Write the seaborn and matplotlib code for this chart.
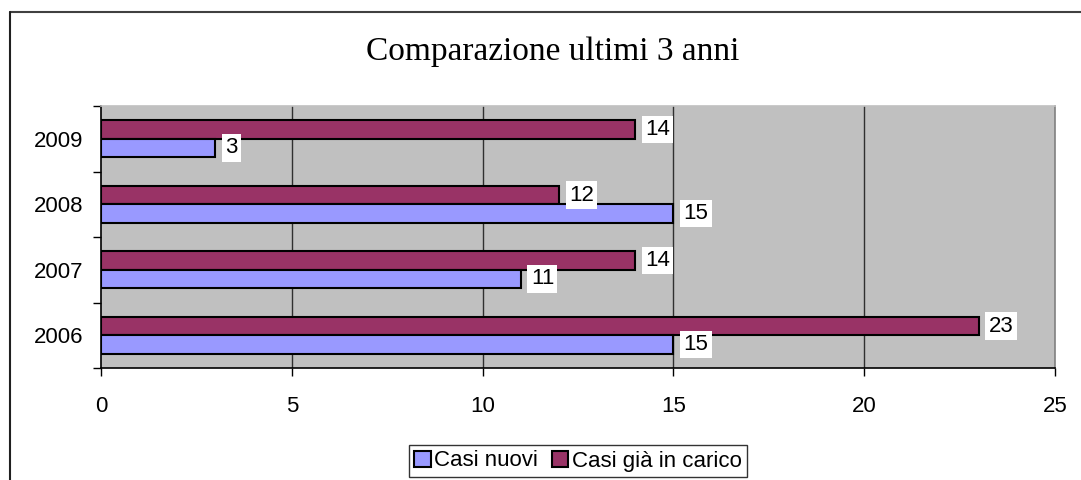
import matplotlib
matplotlib.use("Agg")
import matplotlib.pyplot as plt
from matplotlib.lines import Line2D
from matplotlib.patches import Patch
import pandas as pd
import seaborn as sns

# Data
anni = ["2009", "2008", "2007", "2006"]
casi_nuovi = [3, 15, 11, 15]
casi_in_carico = [14, 12, 14, 23]
serie = ["Casi nuovi", "Casi già in carico"]
colori = {"Casi nuovi": "#9999FF", "Casi già in carico": "#993366"}
x_ticks = [0, 5, 10, 15, 20, 25]

df = pd.DataFrame({
    "anno": anni * 2,
    "valore": casi_nuovi + casi_in_carico,
    "serie": [serie[0]] * len(anni) + [serie[1]] * len(anni),
})

sns.set_style("white")
plt.rcParams["font.family"] = ["Liberation Sans", "DejaVu Sans"]
plt.rcParams["text.color"] = "black"
plt.rcParams["xtick.color"] = "black"
plt.rcParams["ytick.color"] = "black"
plt.rcParams["xtick.labelcolor"] = "black"
plt.rcParams["ytick.labelcolor"] = "black"
FS = 16

fig = plt.figure(figsize=(10.81, 4.80), dpi=100)
ax = fig.add_axes([101 / 1081, 1 - 368 / 480, (1055 - 101) / 1081, (368 - 106) / 480])
ax.set_facecolor("#C0C0C0")

# purple series first so it sits above the blue one in each band
sns.barplot(
    data=df, y="anno", x="valore", hue="serie", order=anni,
    hue_order=[serie[1], serie[0]], palette=colori, orient="h",
    width=0.56, edgecolor="black", linewidth=1.5, ax=ax, legend=False,
    saturation=1,
)

# value labels in white boxes
for cont in ax.containers:
    for bar in cont:
        v = bar.get_width()
        ax.annotate(
            f"{v:g}", xy=(v, bar.get_y() + bar.get_height() / 2),
            xytext=(10, 0), textcoords="offset pixels", ha="left", va="center",
            fontsize=FS, color="black",
            bbox=dict(boxstyle="square,pad=0.15", fc="white", ec="none"),
        )

ax.set_xlim(0, 25)
ax.set_ylim(3.5, -0.5)
ax.set_xticks(x_ticks)
ax.set_xticklabels([str(t) for t in x_ticks], fontsize=FS, color="black")
ax.set_yticks(range(len(anni)))
ax.set_yticklabels(anni, fontsize=FS, color="black")
ax.set_yticks([-0.5, 0.5, 1.5, 2.5, 3.5], minor=True)
ax.tick_params(axis="y", which="major", length=0, pad=13)
ax.tick_params(axis="y", which="minor", length=6, width=1, color="black", direction="out", left=True)
ax.tick_params(axis="x", which="major", length=6, width=1, color="black", direction="out", bottom=True, pad=14)
ax.set_xlabel("")
ax.set_ylabel("")

for x in x_ticks[1:-1]:
    ax.axvline(x, color="#303030", linewidth=1, zorder=0.5)

ax.spines["left"].set_color("black")
ax.spines["bottom"].set_color("black")
ax.spines["right"].set_color("#808080")
ax.spines["top"].set_color("#C0C0C0")
for s in ax.spines.values():
    s.set_linewidth(1.2)
    s.set_visible(True)

fig.text(553 / 1081, 1 - 52 / 480, "Comparazione ultimi 3 anni",
         ha="center", va="center", fontsize=24, color="black",
         family=["Liberation Serif", "DejaVu Serif"])

handles = [Patch(facecolor=colori[s], edgecolor="black", linewidth=1.5, label=s) for s in serie]
leg = fig.legend(
    handles=handles, loc="center", bbox_to_anchor=(578 / 1081, 1 - 461 / 480),
    ncol=2, fontsize=FS, frameon=True, fancybox=False, handlelength=0.75,
    handleheight=0.75, handletextpad=0.15, columnspacing=0.6, borderpad=0.25,
    borderaxespad=0, labelcolor="black",
)
leg.get_frame().set_edgecolor("black")
leg.get_frame().set_linewidth(1)

# chart border
fig.add_artist(Line2D([9.5 / 1081, 1], [1 - 12 / 480, 1 - 12 / 480], color="#404040", linewidth=1.5))
fig.add_artist(Line2D([9.5 / 1081, 9.5 / 1081], [0, 1 - 12 / 480], color="#202020", linewidth=1.5))

fig.savefig("out.png", dpi=100, facecolor="white")
